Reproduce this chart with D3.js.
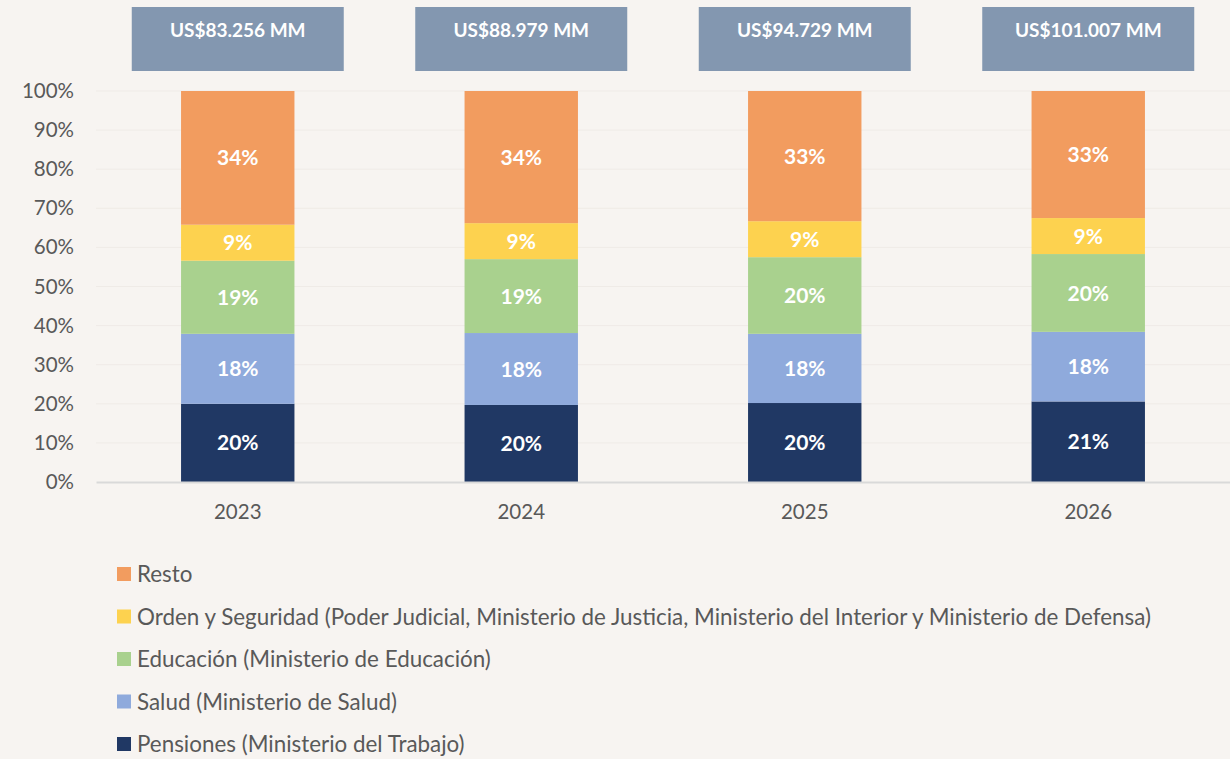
<!DOCTYPE html>
<html>
<head>
<meta charset="utf-8">
<script src="https://cdn.jsdelivr.net/npm/d3@7/dist/d3.min.js"></script>
<style>
  body { margin: 0; background: #f7f4f1; }
  svg { display: block; font-family: Lato, "Open Sans", sans-serif; }
</style>
</head>
<body>
<svg id="chart" width="1230" height="759"></svg>
<script>
// values (share of total, %)
var years = ["2023", "2024", "2025", "2026"];
var totals = ["US$83.256 MM", "US$88.979 MM", "US$94.729 MM", "US$101.007 MM"];
var pensiones = [20.0, 19.7, 20.2, 20.6];
var salud = [17.9, 18.4, 17.7, 17.8];
var educacion = [18.7, 18.9, 19.6, 19.9];
var orden = [9.2, 9.2, 9.2, 9.2];
var resto = [34.2, 33.8, 33.3, 32.5];
var seriesNames = ["Pensiones (Ministerio del Trabajo)", "Salud (Ministerio de Salud)",
  "Educación (Ministerio de Educación)",
  "Orden y Seguridad (Poder Judicial, Ministerio de Justicia, Ministerio del Interior y Ministerio de Defensa)",
  "Resto"];
var seriesKeys = ["pensiones", "salud", "educacion", "orden", "resto"];
var colors = ["#203864", "#8faadc", "#a9d18e", "#fdd24f", "#f29c5f"];
var yTicks = [0, 10, 20, 30, 40, 50, 60, 70, 80, 90, 100];

var table = years.map(function(y, i) {
  return { year: y, pensiones: pensiones[i], salud: salud[i], educacion: educacion[i], orden: orden[i], resto: resto[i] };
});

var svg = d3.select("#chart");

var x = d3.scaleBand().domain(years).range([96, 1230]).paddingInner(0.6).paddingOuter(0.3);
var y = d3.scaleLinear().domain([0, 100]).range([482, 91]);

// gridlines
svg.append("g").selectAll("line").data(yTicks.slice(1)).enter().append("line")
  .attr("x1", 96).attr("x2", 1230)
  .attr("y1", function(d) { return y(d); }).attr("y2", function(d) { return y(d); })
  .attr("stroke", "#efebe7").attr("stroke-width", 1);

// y axis labels
var yAxis = d3.axisLeft(y).tickValues(yTicks).tickSize(0).tickPadding(0)
  .tickFormat(function(d) { return d + "%"; });
var gy = svg.append("g").attr("transform", "translate(74,0)").call(yAxis);
gy.select(".domain").remove();
gy.selectAll("text").attr("fill", "#595959").style("font-size", "20.5px").style("font-family", "Lato, sans-serif");

// stacked bars
var stack = d3.stack().keys(seriesKeys)(table);
var layers = svg.append("g").selectAll("g").data(stack).enter().append("g")
  .attr("fill", function(d, i) { return colors[i]; });
layers.selectAll("rect").data(function(d) { return d; }).enter().append("rect")
  .attr("x", function(d) { return x(d.data.year); })
  .attr("width", x.bandwidth())
  .attr("y", function(d) { return y(d[1]); })
  .attr("height", function(d) { return y(d[0]) - y(d[1]); });
layers.selectAll("text").data(function(d) { return d; }).enter().append("text")
  .attr("x", function(d) { return x(d.data.year) + x.bandwidth() / 2; })
  .attr("y", function(d) { return (y(d[0]) + y(d[1])) / 2; })
  .attr("dy", "0.36em")
  .attr("text-anchor", "middle")
  .attr("fill", "#ffffff")
  .style("font-size", "21px").style("font-weight", "bold")
  .text(function(d) { return Math.round(d[1] - d[0]) + "%"; });

// x axis
var xAxis = d3.axisBottom(x).tickSize(0).tickPadding(22);
var gx = svg.append("g").attr("transform", "translate(0,482)").call(xAxis);
gx.select(".domain").attr("stroke", "#d9d9d9").attr("stroke-width", 2);
gx.selectAll("text").attr("fill", "#595959").style("font-size", "20.5px").style("font-family", "Lato, sans-serif");

// total boxes above bars
var boxes = svg.append("g").selectAll("g").data(years).enter().append("g");
boxes.append("rect")
  .attr("x", function(d) { return x(d) + x.bandwidth() / 2 - 106; })
  .attr("y", 7).attr("width", 212).attr("height", 64)
  .attr("fill", "#8397b0");
boxes.append("text")
  .attr("x", function(d) { return x(d) + x.bandwidth() / 2; })
  .attr("y", 37)
  .attr("text-anchor", "middle").attr("fill", "#ffffff")
  .style("font-size", "19px").style("font-weight", "bold")
  .text(function(d, i) { return totals[i]; });

// legend, top-down in reverse order
var legendOrder = [4, 3, 2, 1, 0];
var leg = svg.append("g").selectAll("g").data(legendOrder).enter().append("g")
  .attr("transform", function(d, i) { return "translate(117," + (574 + i * 42.5) + ")"; });
leg.append("rect").attr("x", 0).attr("y", -7).attr("width", 14).attr("height", 14)
  .attr("fill", function(d) { return colors[d]; });
leg.append("text").attr("x", 20).attr("dy", "0.36em")
  .attr("fill", "#595959").style("font-size", "22.4px")
  .text(function(d) { return seriesNames[d]; });
</script>
</body>
</html>
